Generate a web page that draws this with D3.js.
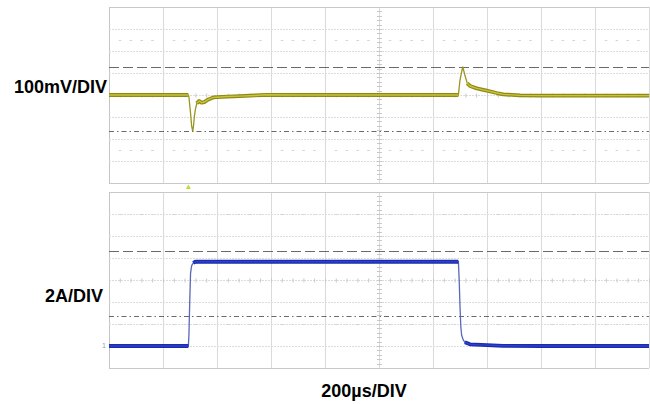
<!DOCTYPE html>
<html><head><meta charset="utf-8">
<script src="https://cdn.jsdelivr.net/npm/d3@7"></script>
<style>html,body{margin:0;padding:0;background:#fff;}svg{display:block;}</style>
</head><body>
<svg id="c" width="650" height="404"></svg>
<script>
// ---- data ----
const timeDivs = [0,200,400,600,800,1000,1200,1400,1600,1800,2000];   // µs
const voltDivs = [-400,-300,-200,-100,0,100,200,300,400];               // mV
const currDivs = [-2,0,2,4,6,8,10,12,14];                               // A

const vTime = [0,100,200,294,296,302,306,310,313,316,320,325,334,343,353,368,386,399,440,485,540,584,700,800,900,1000,1100,1200,1294,1300,1310,1318,1327,1337,1362,1399,1436,1460,1522,1600,1700,1800,1900,2000];
const vMilli = [0,0,0,0,-8,-83,-140,-164,-140,-99,-65,-38,-27,-35,-32,-20,-11,-10,-7,-5,-2,1,0,0,0,0,0,0,0,68,129,91,53,41,30,20,9,3,-1.5,-3,-3,-3,-3,-3];

const iTime = [0,100,200,294,296,299,302,306,312,320,600,900,1200,1294,1297,1300,1303,1306,1312,1318,1337,1400,1460,1600,2000];
const iAmp  = [0,0,0,0,1,4,6.6,7.3,7.55,7.66,7.66,7.66,7.66,7.66,6.0,3.6,1.8,1.0,0.55,0.34,0.15,0.08,0.02,0,0];

const vCursors = [129, -162];   // mV (dashed, dash-dot)
const iCursors = [8.66, 2.75];  // A
const triggerTime = 294;        // µs
const chLabels = ["100mV/DIV", "2A/DIV"];
const timeLabel = "200µs/DIV";

// ---- drawing ----
const svg = d3.select("#c");
const x = d3.scaleLinear().domain([0,2000]).range([109,649]);
const yV = d3.scaleLinear().domain([-400,400]).range([183,7]);
const yI = d3.scaleLinear().domain([-2,14]).range([368,192]);

function panel(y, divs, centerVal, dotRows) {
  const g = svg.append("g");
  const [y0,y1] = [y(divs[divs.length-1]), y(divs[0])];
  // vertical grid
  g.selectAll(".vg").data(timeDivs).join("line")
    .attr("x1", d=>x(d)+0.5).attr("x2", d=>x(d)+0.5)
    .attr("y1", y0).attr("y2", y1)
    .attr("stroke", d=>d===0?"#c4c4c4":"#dadada").attr("stroke-width",1);
  // horizontal grid
  g.selectAll(".hg").data(divs).join("line")
    .attr("x1", x(0)).attr("x2", x(2000))
    .attr("y1", d=>Math.round(y(d))+0.5).attr("y2", d=>Math.round(y(d))+0.5)
    .attr("stroke", (d,i)=> (i===0||i===divs.length-1)?"#c8c8c8":"#dcdcdc")
    .attr("stroke-width",1)
    .attr("stroke-dasharray", (d,i)=> (i===0||i===divs.length-1)?null:"2,1");
  // minor tick marks on center lines
  const minorT = d3.range(0,2001,40);
  const cy = Math.round(y(centerVal))+0.5;
  g.selectAll(".mt").data(minorT).join("line")
    .attr("x1", d=>x(d)+0.5).attr("x2", d=>x(d)+0.5)
    .attr("y1", cy-2).attr("y2", cy+2).attr("stroke","#c8c8c8");
  const step = (divs[1]-divs[0])/5;
  const minorY = d3.range(divs[0], divs[divs.length-1]+step/2, step);
  g.selectAll(".my").data(minorY).join("line")
    .attr("x1", x(1000)-2).attr("x2", x(1000)+3)
    .attr("y1", d=>Math.round(y(d))+0.5).attr("y2", d=>Math.round(y(d))+0.5)
    .attr("stroke","#c8c8c8");
  // faint dotted rows
  dotRows.forEach(v=>{
    g.selectAll(null).data(minorT.filter(t=>t%200!==0)).join("line")
      .attr("x1", d=>x(d)-1).attr("x2", d=>x(d)+1.5)
      .attr("y1", Math.round(y(v))+0.5).attr("y2", Math.round(y(v))+0.5)
      .attr("stroke","#d4d4d4");
  });
  return g;
}

panel(yV, voltDivs, 0, [250, -250]);
panel(yI, currDivs, 6, [12, 2]);

// cursors
function cursors(y, vals) {
  const dashes = ["10,4", "5,3,1.5,3"];
  svg.selectAll(null).data(vals).join("line")
    .attr("x1", x(0)).attr("x2", x(2000))
    .attr("y1", d=>Math.round(y(d))+0.5).attr("y2", d=>Math.round(y(d))+0.5)
    .attr("stroke","#6a6a6a").attr("stroke-width",1)
    .attr("stroke-dasharray",(d,i)=>dashes[i]);
}
cursors(yV, vCursors);
cursors(yI, iCursors);

// traces
function trace(times, vals, y, thinCol, outerCol, innerCol) {
  const pts = times.map((t,i)=>[x(t), y(vals[i])]);
  const line = d3.line();
  // steep segments drawn thin, flat segments thick (noise envelope)
  const flat = pts.map((p,i)=>{
    const a = pts[Math.max(0,i-1)], b = pts[Math.min(pts.length-1,i+1)];
    const s1 = Math.abs(p[1]-a[1])/Math.max(0.01,p[0]-a[0]);
    const s2 = Math.abs(b[1]-p[1])/Math.max(0.01,b[0]-p[0]);
    return Math.min(s1,s2) < 1.2;
  });
  svg.append("path").attr("d", line(pts)).attr("fill","none")
    .attr("stroke", thinCol).attr("stroke-width",1.3);
  const thick = d3.line().defined((d,i)=>flat[i]);
  svg.append("path").attr("d", thick(pts)).attr("fill","none")
    .attr("stroke", outerCol).attr("stroke-width",3.8).attr("stroke-linejoin","round");
  svg.append("path").attr("d", thick(pts)).attr("fill","none")
    .attr("stroke", innerCol).attr("stroke-width",1.4).attr("stroke-linejoin","round");
}
trace(vTime, vMilli, yV, "#9a9420", "#8e8a16", "#c9c23a");
trace(iTime, iAmp, yI, "#5a68b8", "#1c2ca8", "#2b3fd2");

// trigger marker
const tx = x(triggerTime);
svg.append("path").attr("d", `M${tx-2.5},189 L${tx+2.5},189 L${tx},184.5 Z`).attr("fill","#c8d63a");
// ground marker ch2
svg.append("text").attr("x", 102).attr("y", yI(0)+2).attr("font-size",7)
  .attr("font-family","Liberation Sans, Arial, sans-serif").attr("fill","#8a98c8").text("1");

// labels
const fnt = "Liberation Sans, Arial, Helvetica, sans-serif";
svg.append("text").attr("x",107).attr("y",93).attr("text-anchor","end")
  .attr("font-family",fnt).attr("font-weight","bold").attr("font-size",18).text(chLabels[0]);
svg.append("text").attr("x",103).attr("y",301.5).attr("text-anchor","end")
  .attr("font-family",fnt).attr("font-weight","bold").attr("font-size",18).text(chLabels[1]);
svg.append("text").attr("x",364).attr("y",396.5).attr("text-anchor","middle")
  .attr("font-family",fnt).attr("font-weight","bold").attr("font-size",18).text(timeLabel);
</script>
</body></html>
